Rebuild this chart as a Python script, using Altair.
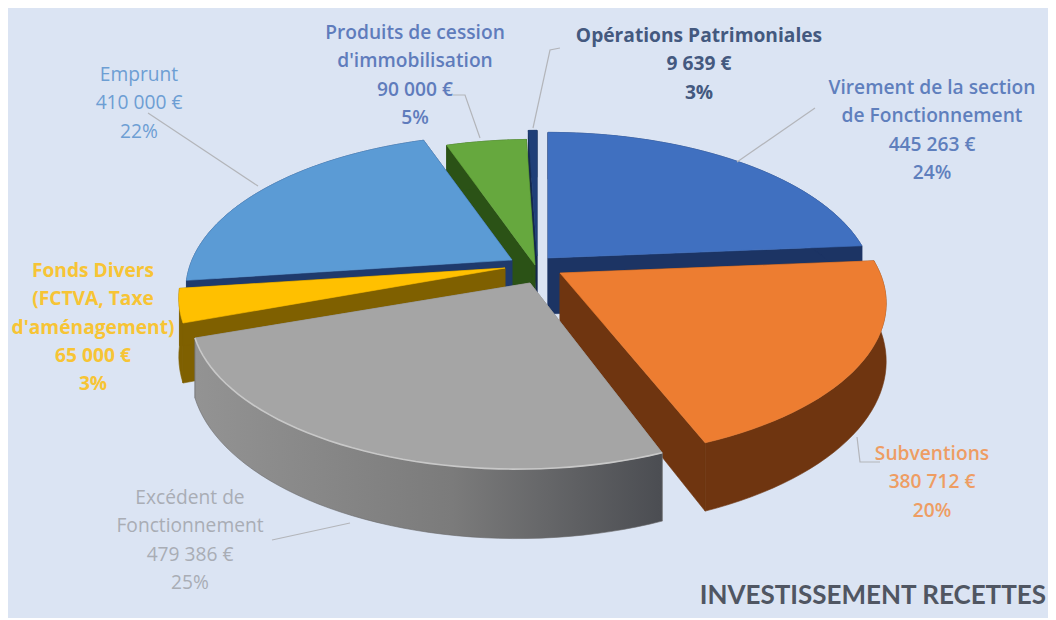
import math
import altair as alt
import pandas as pd

# --- values -----------------------------------------------------------------
postes = ["Virement de la section\nde Fonctionnement", "Subventions", "Excédent de\nFonctionnement",
          "Fonds Divers\n(FCTVA, Taxe\nd'aménagement)", "Emprunt", "Produits de cession\nd'immobilisation",
          "Opérations Patrimoniales"]
montants = [445263, 380712, 479386, 65000, 410000, 90000, 9639]
montants_txt = ["445 263 €", "380 712 €", "479 386 €", "65 000 €", "410 000 €", "90 000 €", "9 639 €"]
pourcents = ["24%", "20%", "25%", "3%", "22%", "5%", "3%"]

# --- styles ------------------------------------------------------------------
top_colors = ["#4070c0", "#ed7d31", "#a5a5a5", "#ffc000", "#5b9bd5", "#66a83e", "#1f3f78"]
wall_colors = ["#1c3464", "#6f3510", "#808080", "#7f6000", "#1f3a6c", "#2b5216", "#14284e"]
text_colors = ["#5f7fbd", "#ee9d63", "#a9adb5", "#f7c435", "#6d9ed3", "#5f7cbc", "#44597f"]
text_weights = [600, 600, 400, 700, 400, 600, 700]

# --- pseudo 3D layout (centre of each exploded slice, in picture pixels) -------
apex = [(548, 258), (560, 273), (517, 283), (505, 268), (512, 260), (535, 265), (537, 256)]
tips = [(548, 258), (560, 273), (530, 283), (505, 268), (512, 260), (535, 265), (537, 256)]
AX, AY, P, H = 320, 150, 0.194, 56
draw_order = [0, 6, 5, 4, 3, 1, 2]
label_pos = [(932, 88), (932, 454), (190, 498), (93, 271), (139, 75), (415, 33), (699, 36)]
leaders = [
    [(737, 162), (815, 108)],
    [(857, 437), (860, 462), (880, 462)],
    [(350, 523), (272, 540)],
    [(258, 186), (148, 113)],
    [(480, 138), (465, 95), (453, 95)],
    [(533, 128), (550, 50), (560, 48)],
]

total = sum(montants)
bounds = [0.0]
for m in montants:
    bounds.append(bounds[-1] + m / total * 360)

xs = alt.Scale(domain=[8, 1048], range=[0, 1040], nice=False, zero=False)
ys = alt.Scale(domain=[8, 618], range=[0, 610], nice=False, zero=False)


def project(k, deg, depth=0.0):
    X = math.sin(math.radians(deg))
    Y = -math.cos(math.radians(deg))
    s = 1 / (1 - P * Y)
    return (apex[k][0] + AX * X * s, apex[k][1] + AY * Y * s + depth * s)


def tip(k, depth=0.0):
    return (tips[k][0], tips[k][1] + depth)


def arc_angles(a, b):
    n = max(2, int((b - a) / 2) + 1)
    return [a + (b - a) * t / (n - 1) for t in range(n)]


def shape(points, fill, stroke=None, width=0.6):
    df = pd.DataFrame({"x": [p[0] for p in points], "y": [p[1] for p in points], "i": range(len(points))})
    return alt.Chart(df).mark_line(fill=fill, stroke=stroke or (fill if isinstance(fill, str) else "#777777"),
                                   strokeWidth=width, interpolate="linear-closed").encode(
        x=alt.X("x:Q", scale=xs, axis=None), y=alt.Y("y:Q", scale=ys, axis=None), order="i:Q")


def path(points, color, width=1.0):
    df = pd.DataFrame({"x": [p[0] for p in points], "y": [p[1] for p in points], "i": range(len(points))})
    return alt.Chart(df).mark_line(stroke=color, strokeWidth=width).encode(
        x=alt.X("x:Q", scale=xs, axis=None), y=alt.Y("y:Q", scale=ys, axis=None), order="i:Q")


layers = []
for k in draw_order:
    a, b = bounds[k], bounds[k + 1]
    angles = arc_angles(a, b)
    rim_top = [project(k, t) for t in angles]
    rim_bot = [project(k, t, depth=H) for t in angles]
    wall = wall_colors[k]
    # cut faces
    for t in (a, b):
        layers.append(shape([tip(k), project(k, t), project(k, t, depth=H), tip(k, H)], wall))
    # outer face
    fill = wall
    stroke = None
    if k == 2:
        stroke = "#6a6a6c"
        fill = alt.LinearGradient(gradient="linear", x1=0, x2=1, y1=0, y2=0, stops=[
            alt.GradientStop(color="#939393", offset=0),
            alt.GradientStop(color="#7b7b7b", offset=0.55),
            alt.GradientStop(color="#4b4d52", offset=1)])
    layers.append(shape(rim_top + rim_bot[::-1], fill, stroke))
    # top face
    layers.append(shape([tip(k)] + rim_top, top_colors[k]))
    if k == 2:
        layers.append(path(rim_top, "#c8c8c8", 1.6))

for pts in leaders:
    layers.append(path(pts, "#b3b5ba", 1.2))

labels = pd.DataFrame({
    "x": [p[0] for p in label_pos],
    "y": [p[1] for p in label_pos],
    "t": [f"{n}\n{m}\n{q}" for n, m, q in zip(postes, montants_txt, pourcents)],
    "c": text_colors,
    "w": text_weights,
})
for w in sorted(set(text_weights)):
    layers.append(alt.Chart(labels[labels.w == w]).mark_text(
        font="Open Sans", fontSize=19.2, fontWeight=w, lineBreak="\n", lineHeight=28.3, align="center", baseline="middle"
    ).encode(x=alt.X("x:Q", scale=xs, axis=None), y=alt.Y("y:Q", scale=ys, axis=None),
             text="t:N", color=alt.Color("c:N", scale=None)))

title = pd.DataFrame({"x": [1046], "y": [596], "t": ["INVESTISSEMENT RECETTES"]})
layers.append(alt.Chart(title).mark_text(font="Lato", fontSize=26, fontWeight=700, align="right",
                                         baseline="middle", color="#505662").encode(
    x=alt.X("x:Q", scale=xs, axis=None), y=alt.Y("y:Q", scale=ys, axis=None), text="t:N"))

chart = alt.layer(*layers).properties(
    width=1040, height=610, padding=0, background="#dbe4f3",
    autosize=alt.AutoSizeParams(type="none")
).configure_view(strokeWidth=0)
chart.save("out.html", embed_options={"renderer": "svg", "actions": False})
